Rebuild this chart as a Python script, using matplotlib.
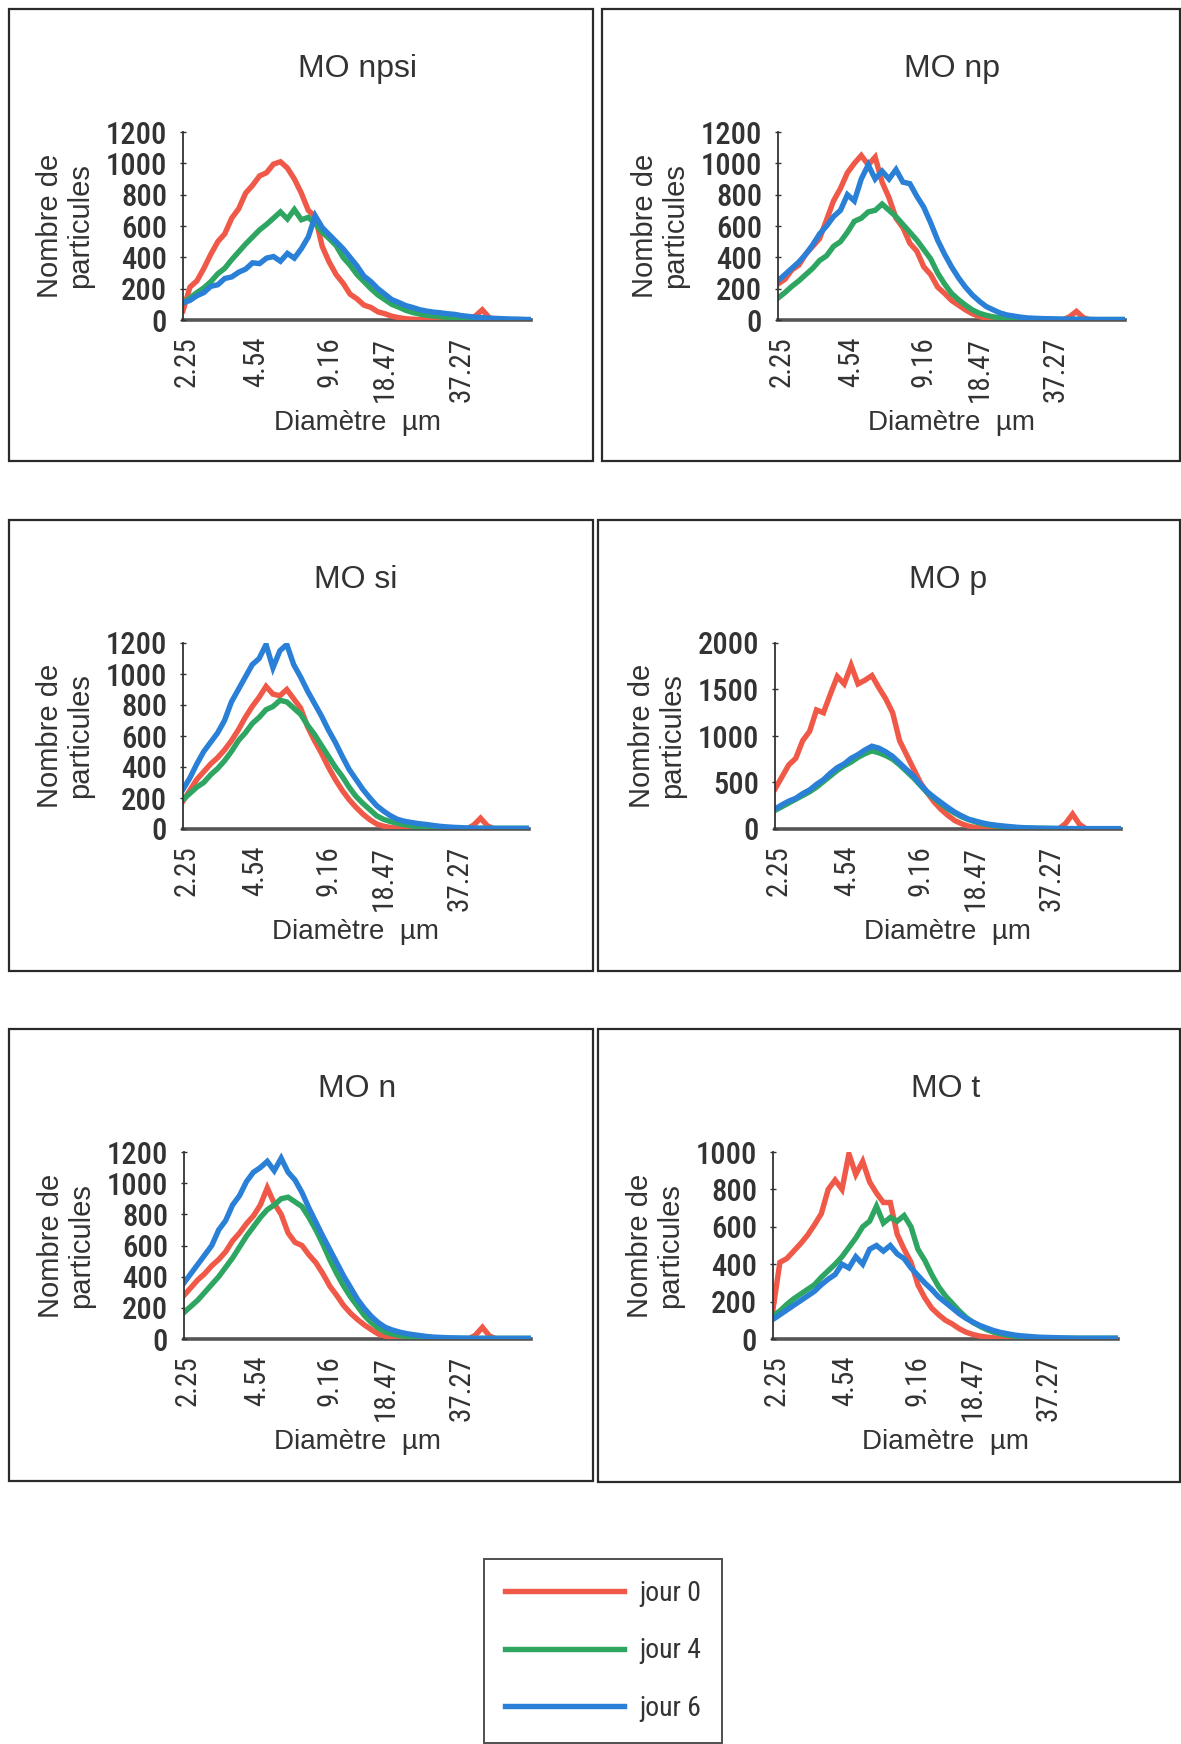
import matplotlib
matplotlib.use("Agg")
import matplotlib.pyplot as plt
from matplotlib import font_manager as fm
from matplotlib.patches import Rectangle
from matplotlib.lines import Line2D

W, H = 1181, 1744

# ---------------- data ----------------
# channel position along the diameter axis (0 = 2.25 µm, 100 = end of axis)
channel = list(range(0, 101, 2))
tick_channels = [1, 21, 42, 58, 80]
tick_labels = ["2.25", "4.54", "9.16", "18.47", "37.27"]
series_names = ["jour 0", "jour 4", "jour 6"]
titles = ["MO npsi", "MO np", "MO si", "MO p", "MO n", "MO t"]
ymax = [1200, 1200, 1200, 2000, 1200, 1000]
ystep = [200, 200, 200, 500, 200, 200]

npsi_j0 = [60,210,250,330,420,500,550,650,710,810,860,920,940,995,1010,970,900,810,700,660,
           470,370,290,235,165,135,95,80,52,40,24,15,8,5,3,2,1,0,0,0,0,0,25,65,15,0,0,0,0,0,0]
npsi_j4 = [110,140,175,205,245,295,330,385,435,485,530,575,610,650,690,645,705,640,655,615,
           560,520,475,400,350,290,245,200,160,130,100,82,62,48,38,30,26,21,17,13,10,8,6,5,4,3,3,3,3,2,2]
npsi_j6 = [110,125,155,175,215,225,265,275,305,325,365,360,395,405,375,425,395,455,530,665,
           590,545,500,455,400,345,280,245,200,165,130,112,92,80,66,57,50,46,40,36,28,23,18,15,12,10,8,6,5,4,3]

np_j0 = [230,260,320,350,420,470,520,640,760,840,940,1000,1050,990,1040,880,780,650,590,490,
         440,340,290,210,170,125,95,65,40,22,12,5,3,2,1,0,0,0,0,0,0,0,20,55,15,0,0,0,0,0,0]
np_j4 = [140,175,215,250,290,330,380,410,470,500,560,630,650,690,700,740,700,660,610,560,
         510,450,390,300,230,170,130,95,65,43,30,20,15,11,8,6,5,4,3,3,3,3,3,3,3,3,3,3,3,3,3]
np_j6 = [250,290,330,370,420,480,550,600,660,700,800,760,900,990,900,950,900,960,880,870,
         790,720,620,510,420,340,270,210,160,120,86,65,45,32,25,18,13,11,9,8,7,6,5,5,4,4,3,3,3,3,3]

si_j0 = [180,250,320,370,420,460,510,570,640,720,790,850,920,870,860,900,840,780,660,570,
         490,400,320,250,190,140,96,60,32,18,10,5,3,2,0,0,0,0,0,0,0,0,25,70,20,0,0,0,0,0,0]
si_j4 = [190,230,270,300,350,390,440,500,570,620,680,720,770,790,830,820,780,740,670,610,
         540,470,400,340,270,210,165,125,85,62,48,36,28,20,14,11,9,7,6,5,4,4,4,4,4,4,4,4,4,4,4]
si_j6 = [256,330,420,500,560,620,700,820,900,980,1060,1100,1190,1040,1150,1190,1060,980,890,810,
         730,640,560,470,385,320,255,200,150,115,85,62,50,42,35,30,24,18,14,11,9,7,6,5,4,4,4,4,4,4,4]

p_j0 = [430,560,690,760,950,1050,1280,1250,1450,1640,1560,1760,1560,1600,1650,1520,1400,1250,950,800,
        650,500,390,290,210,145,90,55,30,15,8,4,2,0,0,0,0,0,0,0,0,0,60,160,50,0,0,0,0,0,0]
p_j4 = [200,240,280,320,360,400,450,510,570,630,680,720,770,810,840,820,790,750,690,620,
        550,470,390,330,270,215,170,130,100,75,55,42,32,25,18,14,11,9,7,6,5,4,4,3,3,3,3,3,3,3,3]
p_j6 = [215,260,300,330,380,420,480,530,600,660,700,760,800,850,890,870,830,780,710,640,
        570,480,400,340,285,230,180,140,105,85,65,50,40,32,25,18,14,11,9,8,7,6,5,4,4,4,4,4,4,4,4]

n_j0 = [280,330,380,420,470,510,560,630,680,740,790,860,970,870,800,680,620,600,540,490,
        420,340,280,215,165,125,90,60,32,18,10,5,3,2,0,0,0,0,0,0,0,0,25,75,20,0,0,0,0,0,0]
n_j4 = [170,210,250,300,350,400,460,520,590,660,720,780,830,860,900,910,880,850,780,700,
        610,510,420,340,270,210,150,105,70,45,32,22,16,12,9,7,6,5,4,4,4,4,4,4,4,4,4,4,4,4,4]
n_j6 = [360,420,480,540,600,700,760,860,920,1010,1070,1100,1140,1080,1160,1070,1020,940,840,750,
        660,575,490,405,330,255,195,145,105,75,58,45,35,28,22,16,12,10,8,7,6,5,4,4,4,4,4,4,4,4,4]

t_j0 = [160,410,430,470,510,555,610,670,800,850,800,990,880,950,840,780,730,730,560,480,
        410,290,220,165,130,100,80,55,36,24,15,10,6,4,3,2,1,1,1,1,1,1,1,1,1,1,1,1,1,1,1]
t_j4 = [125,150,185,215,240,265,290,330,365,400,440,490,540,600,630,710,620,650,630,660,
        600,480,420,345,280,230,190,150,115,88,68,50,36,27,20,15,11,9,7,6,5,4,4,4,4,4,4,4,4,4,4]
t_j6 = [105,130,155,180,205,230,255,290,320,345,400,380,440,400,480,500,470,500,455,430,
        380,340,300,265,225,195,165,135,110,90,72,58,45,35,28,21,17,14,11,9,8,7,6,5,4,4,4,4,4,4,4]

panels_data = [
    (npsi_j0, npsi_j4, npsi_j6),
    (np_j0, np_j4, np_j6),
    (si_j0, si_j4, si_j6),
    (p_j0, p_j4, p_j6),
    (n_j0, n_j4, n_j6),
    (t_j0, t_j4, t_j6),
]

# ---------------- fonts ----------------
available = {f.name for f in fm.fontManager.ttflist}
narrow_fp = None
for cand in ["Liberation Sans Narrow", "Roboto Condensed", "Open Sans Condensed",
             "Arial Narrow", "DejaVu Sans Condensed"]:
    if cand in available:
        narrow_fp = dict(family=[cand, "DejaVu Sans"], stretch="normal")
        scale = 1.0
        break
if narrow_fp is None:
    condensed = [f for f in fm.fontManager.ttflist
                 if f.name in ("Roboto", "Open Sans", "DejaVu Sans")
                 and str(f.stretch) in ("condensed", "semi-condensed", "extra-condensed", "75", "62", "87")]
    if condensed:
        narrow_fp = dict(family=[condensed[0].name, "DejaVu Sans"], stretch=condensed[0].stretch)
        scale = 0.95
    else:
        narrow_fp = dict(family=["Liberation Sans", "DejaVu Sans"], stretch="normal")
        scale = 0.8

# ---------------- styling / layout ----------------
colors = ["#f05848", "#2ea662", "#2a80d6"]
txt = "#333333"
regular = ["Liberation Sans", "DejaVu Sans"]

panel_boxes = [(9, 9, 593, 461), (602, 9, 1180, 461),
               (9, 520, 593, 971), (598, 520, 1180, 971),
               (9, 1029, 593, 1481), (598, 1029, 1180, 1482)]
axes_px = [(183, 531, 132, 320), (778, 1125, 132, 320),
           (183, 529, 643, 829), (775, 1121, 643, 829),
           (184, 531, 1152, 1339), (773, 1118, 1152, 1339)]

fig = plt.figure(figsize=(W / 100, H / 100), dpi=100)
fig.patch.set_facecolor("white")


def fx(x):
    return x / W


def fy(y):
    return 1 - y / H


for i in range(6):
    x0, y0, x1, y1 = panel_boxes[i]
    fig.add_artist(Rectangle((fx(x0), fy(y1)), fx(x1 - x0), (y1 - y0) / H,
                             transform=fig.transFigure, fill=False,
                             edgecolor="#2a2a2a", lw=1.6))
    l, r, t, b = axes_px[i]
    ax = fig.add_axes([fx(l), fy(b), fx(r - l), (b - t) / H])
    for k in range(3):
        ax.plot(channel, panels_data[i][k], color=colors[k], lw=3.9,
                solid_joinstyle="miter", label=series_names[k])
    ax.set_xlim(0, 100)
    ax.set_ylim(0, ymax[i])
    ax.set_yticks(list(range(0, ymax[i] + 1, ystep[i])))
    ax.set_xticks(tick_channels)
    ax.set_xticklabels(tick_labels, rotation=90, fontsize=21 * scale, color=txt, **narrow_fp)
    for lab in ax.get_yticklabels():
        lab.set_family(narrow_fp["family"])
        lab.set_stretch(narrow_fp["stretch"])
        lab.set_fontsize(22 * scale)
        lab.set_color(txt)
        lab.set_fontweight("medium")
    ax.tick_params(axis="y", direction="inout", length=5, width=1, color="#333333", pad=9)
    ax.tick_params(axis="x", length=0, pad=12)
    for s in ("top", "right"):
        ax.spines[s].set_visible(False)
    ax.spines["left"].set_color("#333333")
    ax.spines["left"].set_linewidth(1.3)
    ax.spines["bottom"].set_color("#555555")
    ax.spines["bottom"].set_linewidth(2.6)
    ax.spines["bottom"].set_zorder(0.5)
    ax.set_facecolor("none")
    cx = (l + r) / 2
    fig.text(fx(cx), fy(t - 63), titles[i], ha="center", va="center",
             family=regular, fontsize=23, color=txt)
    fig.text(fx(cx), fy(b + 103), "Diamètre  µm", ha="center", va="center",
             family=regular, fontsize=20, color=txt)
    fig.text(fx(l - 118), fy((t + b) / 2), "Nombre de\nparticules", ha="center",
             va="center", rotation=90, multialignment="center", family=regular,
             fontsize=21, color=txt, linespacing=1.1)

handles = [Line2D([], [], color=c, lw=3.9) for c in colors]
leg = fig.legend(handles, series_names, loc="upper left",
                 bbox_to_anchor=(fx(484), fy(1559)), bbox_transform=fig.transFigure,
                 borderaxespad=0, frameon=True, fancybox=False, shadow=False,
                 handlelength=4.3 / scale, handletextpad=0.55 / scale, labelspacing=1.1 / scale,
                 borderpad=0.75 / scale,
                 prop=fm.FontProperties(family=narrow_fp["family"], stretch=narrow_fp["stretch"],
                                        size=20 * scale))
leg.get_frame().set_edgecolor("#222222")
leg.get_frame().set_linewidth(1.4)
for t_ in leg.get_texts():
    t_.set_color(txt)

fig.savefig("out.png", dpi=100, facecolor="white")
